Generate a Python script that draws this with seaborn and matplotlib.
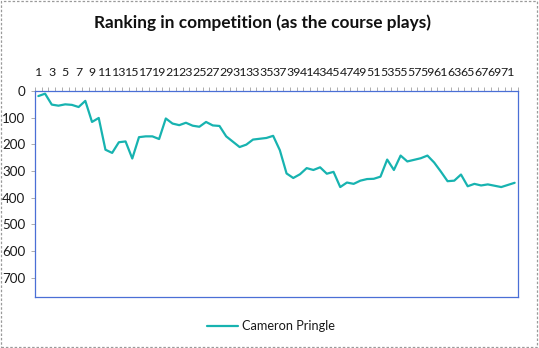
import matplotlib
matplotlib.use("Agg")
import matplotlib.pyplot as plt
import seaborn as sns
import pandas as pd
from matplotlib.patches import Rectangle
from matplotlib.ticker import FixedLocator

# Hole-by-hole ranking of the player over four rounds (72 holes)
holes = list(range(1, 73))
ranking = [19, 10, 51, 55, 50, 52, 60, 37, 116, 101,
           220, 232, 192, 189, 253, 173, 170, 170, 180, 103,
           122, 128, 119, 130, 134, 116, 129, 131, 170, 190,
           210, 201, 182, 179, 176, 168, 222, 309, 326, 312,
           289, 296, 286, 310, 303, 360, 343, 348, 336, 330,
           329, 321, 257, 296, 242, 264, 258, 252, 242, 268,
           302, 338, 336, 313, 357, 348, 354, 350, 355, 360,
           352, 344]
player = "Cameron Pringle"
title = "Ranking in competition (as the course plays)"
y_ticks = [0, 100, 200, 300, 400, 500, 600, 700]
x_labels = list(range(1, 72, 2))

df = pd.DataFrame({"Hole": holes, "Ranking": ranking, "Player": player})

sns.set_theme(style="white")
plt.rcParams["font.family"] = ["Lato", "DejaVu Sans"]

fig = plt.figure(figsize=(5.39, 3.48), dpi=100)
ax = fig.add_axes([35 / 539, 1 - 297 / 348, (518 - 35) / 539, (297 - 91) / 348])

line_color = "#17B3B0"
sns.lineplot(data=df, x="Hole", y="Ranking", ax=ax, color=line_color,
             linewidth=1.6, label=player, legend=False)

ax.set_xlim(0.5, 72.5)
ax.set_ylim(772, 0)
ax.set_xlabel("")
ax.set_ylabel("")

# category axis along the top, labels on odd holes, ticks between holes
ax.xaxis.tick_top()
ax.set_xticks(x_labels)
ax.set_xticklabels([str(v) for v in x_labels])
ax.xaxis.set_minor_locator(FixedLocator([h + 0.5 for h in range(0, 73)]))
ax.tick_params(axis="x", which="major", length=0, pad=9, labelsize=8.9,
               labelcolor="#1a1a1a")
ax.tick_params(axis="x", which="minor", length=3, width=0.6, color="#a0a0a0",
               top=True, bottom=False, direction="out")

ax.set_yticks(y_ticks)
ax.tick_params(axis="y", which="major", length=3, width=0.6, color="#a0a0a0",
               left=True, pad=4, labelsize=9.6, labelcolor="#1a1a1a")

for side in ["left", "right", "top", "bottom"]:
    ax.spines[side].set_visible(True)
    ax.spines[side].set_color("#4A6FD6")
    ax.spines[side].set_linewidth(0.9)

fig.text(262 / 539, 1 - 23 / 348, title, ha="center", va="center",
         fontsize=12.4, fontweight="bold", color="#111111")

handles, labels = ax.get_legend_handles_labels()
fig.legend(handles, labels, loc="center", bbox_to_anchor=(271 / 539, 1 - 326 / 348),
           frameon=False, fontsize=9.2, handlelength=2.4, handletextpad=0.3,
           labelcolor="#1a1a1a")

# dashed chart-area border
fig.patches.append(Rectangle((0.002, 0.003), 0.995, 0.994, transform=fig.transFigure,
                             fill=False, edgecolor="#9a9a9a", linewidth=0.9,
                             linestyle=(0, (2, 1.5))))

fig.savefig("out.png", dpi=100)
